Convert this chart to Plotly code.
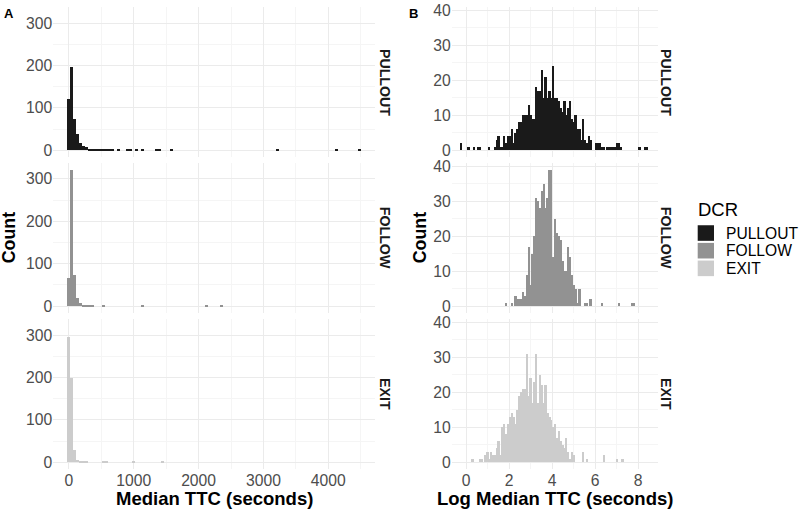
import numpy as np
import plotly.graph_objects as go

GROUPS = ["PULLOUT", "FOLLOW", "EXIT"]
COLORS = ["#1a1a1a", "#929292", "#cccccc"]

# Panel A: histogram of median TTC (seconds), 100 bins shared by the facets
A_BIN_START = 0.8
A_BIN_WIDTH = 45.35
A_PULLOUT = [122, 197, 73, 39, 17, 11, 7, 3, 2, 2,
             3, 2, 1, 2, 1, 1, 0, 1, 0, 0,
             1, 1, 0, 1, 0, 1, 0, 0, 0, 0,
             1, 1, 0, 0, 0, 1, 0, 0, 0, 0,
             0, 0, 0, 0, 0, 0, 0, 0, 0, 0,
             0, 0, 0, 0, 0, 0, 0, 0, 0, 0,
             0, 0, 0, 0, 0, 0, 0, 0, 0, 0,
             0, 1, 0, 0, 0, 0, 0, 0, 0, 0,
             0, 0, 0, 0, 0, 0, 0, 0, 0, 0,
             0, 1, 0, 0, 0, 0, 0, 0, 0, 1]
A_FOLLOW = [67, 322, 73, 20, 8, 3, 2, 1, 1, 0,
            0, 0, 1, 0, 0, 0, 0, 0, 0, 0,
            0, 0, 0, 0, 0, 1, 0, 0, 0, 0,
            0, 0, 0, 0, 0, 0, 0, 0, 0, 0,
            0, 0, 0, 0, 0, 0, 0, 1, 0, 0,
            0, 0, 1, 0, 0, 0, 0, 0, 0, 0,
            0, 0, 0, 0, 0, 0, 0, 0, 0, 0,
            0, 0, 0, 0, 0, 0, 0, 0, 0, 0,
            0, 0, 0, 0, 0, 0, 0, 0, 0, 0,
            0, 0, 0, 0, 0, 0, 0, 0, 0, 0]
A_EXIT = [295, 200, 29, 6, 3, 2, 1, 0, 0, 0,
          0, 0, 1, 1, 0, 0, 0, 0, 0, 0,
          0, 0, 1, 0, 0, 0, 0, 0, 0, 0,
          0, 0, 1, 0, 0, 0, 0, 0, 0, 0,
          0, 0, 0, 0, 0, 0, 0, 0, 0, 0,
          0, 0, 0, 0, 0, 0, 0, 0, 0, 0,
          0, 0, 0, 0, 0, 0, 0, 0, 0, 0,
          0, 0, 0, 0, 0, 0, 0, 0, 0, 0,
          0, 0, 0, 0, 0, 0, 0, 0, 0, 0,
          0, 0, 0, 0, 0, 0, 0, 0, 0, 0]

# Panel B: histogram of log median TTC, 100 bins shared by the facets
B_BIN_START = -0.23
B_BIN_WIDTH = 0.0873
B_PULLOUT = [2, 0, 0, 0, 1, 0, 0, 1, 0, 1,
             1, 0, 0, 0, 0, 1, 0, 0, 1, 3,
             4, 1, 1, 4, 2, 4, 4, 6, 2, 5,
             6, 8, 8, 10, 10, 10, 13, 10, 9, 9,
             18, 17, 17, 23, 15, 21, 15, 17, 15, 24,
             15, 15, 14, 12, 11, 14, 10, 12, 14, 9,
             8, 10, 6, 6, 3, 9, 3, 2, 4, 3,
             0, 0, 2, 2, 2, 1, 1, 0, 1, 1,
             1, 1, 1, 2, 2, 1, 0, 0, 0, 0,
             0, 0, 0, 0, 0, 1, 0, 0, 1, 1]
B_FOLLOW = [0, 0, 0, 0, 0, 0, 0, 0, 0, 0,
            0, 0, 0, 0, 0, 0, 0, 0, 0, 0,
            0, 0, 0, 0, 1, 0, 0, 1, 0, 3,
            2, 2, 2, 4, 3, 9, 17, 6, 15, 20,
            31, 30, 28, 33, 35, 28, 31, 39, 39, 14,
            25, 21, 20, 19, 13, 10, 10, 17, 14, 9,
            6, 5, 1, 5, 0, 0, 1, 1, 0, 2,
            0, 0, 0, 0, 0, 1, 0, 0, 0, 0,
            0, 0, 0, 0, 1, 0, 0, 0, 0, 0,
            0, 1, 1, 0, 0, 0, 0, 0, 0, 0]
B_EXIT = [0, 0, 0, 0, 0, 0, 1, 0, 0, 0,
          1, 1, 0, 2, 3, 1, 3, 2, 2, 4,
          6, 2, 10, 11, 8, 11, 13, 14, 13, 11,
          15, 19, 20, 21, 21, 31, 19, 24, 17, 23,
          31, 17, 25, 22, 17, 22, 14, 13, 12, 10,
          11, 7, 9, 6, 5, 4, 7, 3, 1, 3,
          2, 0, 0, 0, 0, 3, 0, 1, 0, 0,
          0, 0, 0, 0, 0, 0, 2, 0, 0, 0,
          0, 0, 0, 1, 0, 0, 1, 0, 0, 0,
          0, 0, 0, 0, 0, 0, 0, 0, 0, 0]

A_TICKS = [0, 1000, 2000, 3000, 4000]
B_TICKS = [0, 2, 4, 6, 8]
A_YTICKS = [0, 100, 200, 300]
B_YTICKS = [0, 10, 20, 30, 40]

A_COUNTS = [A_PULLOUT, A_FOLLOW, A_EXIT]
B_COUNTS = [B_PULLOUT, B_FOLLOW, B_EXIT]

W, H = 800, 511
FONT = "Liberation Sans, Arial, sans-serif"
TICKFONT = dict(family=FONT, size=15.7, color="#4d4d4d")
GRID = "#ebebeb"
MINOR = "#f5f5f5"

A_DOM = [53.3 / W, 375 / W]
B_DOM = [451.7 / W, 658.3 / W]
ROWS_PX = [(1.9, 154.2), (159.9, 312.2), (318.3, 470.6)]
ROW_DOM = [[1 - b / H, 1 - t / H] for t, b in ROWS_PX]

a_centers = A_BIN_START + A_BIN_WIDTH * np.arange(len(A_PULLOUT))
b_centers = B_BIN_START + B_BIN_WIDTH * np.arange(len(B_PULLOUT))

fig = go.Figure()
layout = {}
for i, g in enumerate(GROUPS):
    a = i + 1
    b = i + 4
    fig.add_trace(go.Bar(x=a_centers, y=A_COUNTS[i], width=A_BIN_WIDTH,
                         marker=dict(color=COLORS[i], line=dict(width=0)),
                         name=g, showlegend=False,
                         xaxis=f"x{a}", yaxis=f"y{a}", hoverinfo="skip"))
    fig.add_trace(go.Bar(x=b_centers, y=B_COUNTS[i], width=B_BIN_WIDTH,
                         marker=dict(color=COLORS[i], line=dict(width=0)),
                         name=g, showlegend=False,
                         xaxis=f"x{b}", yaxis=f"y{b}", hoverinfo="skip"))
    common = dict(showgrid=True, gridcolor=GRID, gridwidth=1, zeroline=False,
                  showline=False, ticks="", tickfont=TICKFONT)
    layout[f"xaxis{a}"] = dict(domain=A_DOM, anchor=f"y{a}", range=[-240, 4720],
                               tickmode="array", tickvals=A_TICKS,
                               showticklabels=(i == 2),
                               minor=dict(tickmode="array", tickvals=[500, 1500, 2500, 3500, 4500],
                                          showgrid=True, gridcolor=MINOR, gridwidth=1),
                               **common)
    layout[f"yaxis{a}"] = dict(domain=ROW_DOM[i], anchor=f"x{a}", range=[-16.1, 338.1],
                               tickmode="array", tickvals=A_YTICKS,
                               minor=dict(tickmode="array", tickvals=[50, 150, 250],
                                          showgrid=True, gridcolor=MINOR, gridwidth=1),
                               **common)
    layout[f"xaxis{b}"] = dict(domain=B_DOM, anchor=f"y{b}", range=[-0.665, 8.94],
                               tickmode="array", tickvals=B_TICKS,
                               showticklabels=(i == 2),
                               minor=dict(tickmode="array", tickvals=[1, 3, 5, 7],
                                          showgrid=True, gridcolor=MINOR, gridwidth=1),
                               **common)
    layout[f"yaxis{b}"] = dict(domain=ROW_DOM[i], anchor=f"x{b}", range=[-1.95, 40.95],
                               tickmode="array", tickvals=B_YTICKS,
                               minor=dict(tickmode="array", tickvals=[5, 15, 25, 35],
                                          showgrid=True, gridcolor=MINOR, gridwidth=1),
                               **common)

annotations = []
shapes = []
def ann(text, x, y, size, angle=0, xanchor="center", yanchor="middle", color="#000000"):
    annotations.append(dict(text=text, x=x / W, y=1 - y / H, xref="paper", yref="paper",
                            showarrow=False, textangle=angle, xanchor=xanchor, yanchor=yanchor,
                            font=dict(family=FONT, size=size, color=color)))

ann("<b>A</b>", 2, 9, 13, xanchor="left")
ann("<b>B</b>", 407, 9, 13, xanchor="left")
for i, g in enumerate(GROUPS):
    t, bt = ROWS_PX[i]
    ann(f"<b>{g}</b>", 385, (t + bt) / 2, 14.2, angle=90, color="#1a1a1a")
    ann(f"<b>{g}</b>", 666, (t + bt) / 2, 14.2, angle=90, color="#1a1a1a")
ann("<b>Count</b>", 9, 236.5, 17.8, angle=-90)
ann("<b>Count</b>", 420, 236.5, 17.8, angle=-90)
ann("<b>Median TTC (seconds)</b>", 214, 500, 18.5)
ann("<b>Log Median TTC (seconds)</b>", 555, 500, 18.5)

# legend (title, keys, labels)
ann("DCR", 696, 207.5, 18.5, xanchor="left")
for i, g in enumerate(GROUPS):
    top = 223.3 + 17.9 * i
    shapes.append(dict(type="rect", xref="paper", yref="paper",
                       x0=697.7 / W, x1=714 / W, y0=1 - (top + 15.8) / H, y1=1 - top / H,
                       fillcolor=COLORS[i], line=dict(width=0)))
    ann(g, 724, top + 8, 15.6, xanchor="left")

fig.update_layout(
    width=W, height=H, margin=dict(l=0, r=0, t=0, b=0),
    paper_bgcolor="white", plot_bgcolor="white",
    barmode="overlay", bargap=0,
    font=dict(family=FONT),
    showlegend=False,
    annotations=annotations,
    shapes=shapes,
    **layout,
)

fig.write_html("out.html", config={"displayModeBar": False},
               post_script="document.body.style.margin='0px';document.body.style.overflow='hidden';")
